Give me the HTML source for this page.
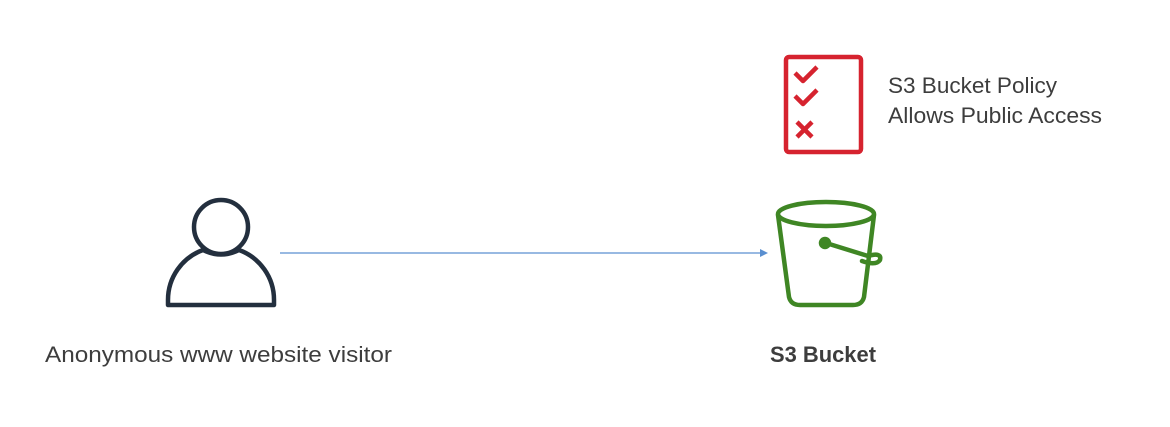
<!DOCTYPE html>
<html><head><meta charset="utf-8"><style>
html,body{margin:0;padding:0;background:#fff;width:1170px;height:427px;overflow:hidden}
text{font-family:"Liberation Sans",sans-serif;fill:#3d3d3d}
</style></head><body>
<svg width="1170" height="427" viewBox="0 0 1170 427">
  <g fill="none" stroke="#232f3e" stroke-width="4.5">
    <circle cx="221" cy="227" r="27"/>
    <path d="M168 305 L168 300 A53 53 0 0 1 203 250 Q221 259 239 250 A53 53 0 0 1 274 300 L274 305 Z" stroke-linejoin="round"/>
  </g>
  <g>
    <line x1="280" y1="253" x2="760" y2="253" stroke="#5a8fd0" stroke-width="1.3"/>
    <polygon points="760,249 768,253 760,257" fill="#5a8fd0"/>
  </g>
  <g fill="none" stroke="#d6232f" stroke-width="4.5" stroke-linejoin="round">
    <rect x="786" y="57" width="75" height="95" rx="3"/>
    <polyline points="795,73 803,81 817,67"/>
    <polyline points="795,96 803,104 817,90"/>
    <path d="M797 122 L812 137 M812 122 L797 137"/>
  </g>
  <g fill="none" stroke="#3f8624" stroke-width="4.5" stroke-linejoin="round" stroke-linecap="round">
    <ellipse cx="826" cy="214" rx="48" ry="12"/>
    <path d="M778 215 L789 297 Q791 305 800 305 L853 305 Q862 305 864 297 L874 215"/>
    <line x1="826" y1="243" x2="868" y2="256"/>
    <path d="M868 256 Q882 252 880 260 Q876 266 862 261"/>
    <circle cx="825" cy="243" r="4" fill="#3f8624"/>
  </g>
  <text x="888" y="93" font-size="22" textLength="169" lengthAdjust="spacingAndGlyphs">S3 Bucket Policy</text>
  <text x="888" y="123" font-size="22" textLength="214" lengthAdjust="spacingAndGlyphs">Allows Public Access</text>
  <text x="45" y="362" font-size="22" textLength="347" lengthAdjust="spacingAndGlyphs">Anonymous www website visitor</text>
  <text x="770" y="362" font-size="22" font-weight="bold" textLength="106" lengthAdjust="spacingAndGlyphs">S3 Bucket</text>
</svg>
</body></html>
